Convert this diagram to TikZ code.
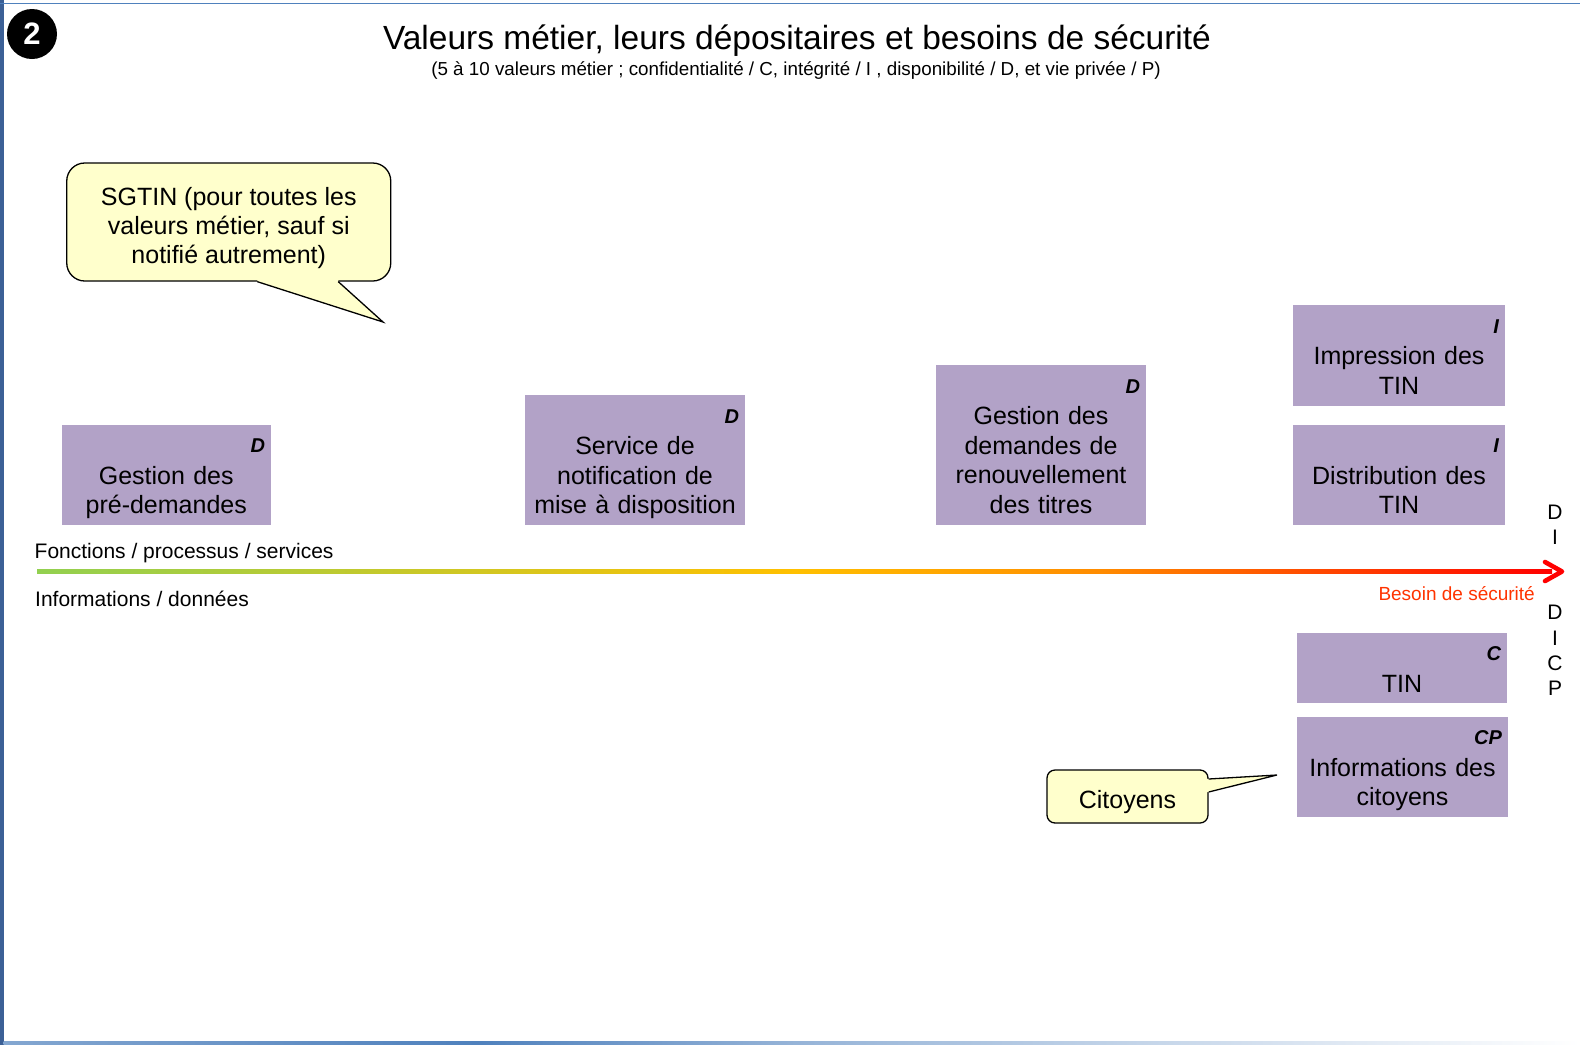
\documentclass[tikz,border=0pt]{standalone}
\usepackage{fontspec}
\setmainfont{Liberation Sans}
\usetikzlibrary{arrows.meta}

\definecolor{lavender}{RGB}{178,162,199}
\definecolor{noteyellow}{RGB}{255,255,204}
\definecolor{frameblue}{RGB}{79,129,189}
\definecolor{framedark}{RGB}{60,96,150}
\definecolor{axgreen}{RGB}{146,208,80}
\definecolor{axyellow}{RGB}{255,192,0}
\definecolor{axorange}{RGB}{255,140,0}
\definecolor{axred}{RGB}{255,0,0}
\definecolor{needred}{RGB}{255,51,0}

% colour ramp of the security-need axis (path spans 25bp..75bp)
\pgfdeclarehorizontalshading{besoin}{100bp}{color(0bp)=(axgreen); color(25bp)=(axgreen);
  color(50bp)=(axyellow); color(60bp)=(axorange); color(75bp)=(axred); color(100bp)=(axred)}
% fading blue rule at the foot of the slide
\pgfdeclarehorizontalshading{footrule}{100bp}{color(0bp)=(frameblue!70); color(25bp)=(frameblue!70);
  color(40bp)=(frameblue); color(50bp)=(frameblue!60); color(75bp)=(white); color(100bp)=(white)}

% criterion letters in the top right corner of a value box
\newcommand{\valtag}[1]{\makebox[\linewidth][r]{\rule{0pt}{22pt}\fontsize{20}{29}\selectfont\bfseries\itshape #1}\\[2pt]}
% same descender room under every last line
\newcommand{\lastdepth}{\rule[-5.3pt]{0pt}{5.3pt}}
% extra room above the first line of a callout text
\newcommand{\notestrut}{\rule{0pt}{30pt}}

\tikzset{
  valbox/.style={fill=lavender, inner xsep=6pt, inner ysep=0pt, align=center,
    execute at end node=\lastdepth, font=\fontsize{25}{29.5}\selectfont},
  note/.style={draw=black, line width=1.3pt, fill=noteyellow, align=center,
    font=\fontsize{25}{29}\selectfont},
  axislabel/.style={anchor=base west, inner sep=0pt, font=\fontsize{21}{25}\selectfont},
  letters/.style={align=center, inner sep=0pt, font=\fontsize{21}{25.3}\selectfont},
}

\begin{document}
\begin{tikzpicture}[x=1pt,y=-1pt]
\useasboundingbox (0,0) rectangle (1580,1045);

% slide frame
\fill[framedark] (0,0) rectangle (3.5,1045);
\fill[frameblue] (0,2.8) rectangle (1580,4.4);
\fill[shading=footrule] (3.5,1041.5) rectangle (1580,1044);

% slide number
\node[circle, fill=black, minimum size=50pt, inner sep=0pt, text=white,
  font=\fontsize{31}{31}\selectfont\bfseries] (num) at (32,34) {2};

% heading
\node[inner sep=0pt, anchor=base, font=\fontsize{33.5}{36}\selectfont] (title) at (797,49)
  {Valeurs métier, leurs dépositaires et besoins de sécurité};
\node[inner sep=0pt, anchor=base, font=\fontsize{18.8}{20}\selectfont] (subtitle) at (796,75)
  {(5 à 10 valeurs métier ; confidentialité / C, intégrité / I , disponibilité / D, et vie privée / P)};

% business values (functions / processes / services)
\node[valbox, text width=197.5pt, minimum height=100pt] (predem) at (166.25,475)
  {\valtag{D}Gestion des\\pré-demandes};
\node[valbox, text width=208pt, minimum height=130pt] (notif) at (635,460)
  {\valtag{D}Service de\\notification de\\mise à disposition};
\node[valbox, text width=198pt, minimum height=160pt] (renouv) at (1041,445)
  {\valtag{D}Gestion des\\demandes de\\renouvellement\\des titres};
\node[valbox, text width=200pt, minimum height=101pt] (impr) at (1399,355.5)
  {\valtag{I}Impression des\\TIN};
\node[valbox, text width=200pt, minimum height=100pt] (distr) at (1399,475)
  {\valtag{I}Distribution des\\TIN};

% business values (information / data)
\node[valbox, text width=198pt, minimum height=70pt] (tin) at (1402,668)
  {\valtag{C}TIN};
\node[valbox, text width=199pt, minimum height=100pt] (infocit) at (1402.5,767)
  {\valtag{CP}Informations des\\citoyens};

% security-need axis
\coordinate (axstart) at (37,571.5);
\coordinate (axend) at (1552,571.5);
\coordinate (axtip) at (1562,571.5);
\fill[shading=besoin] (37,569.2) rectangle (1552,573.8);
\draw[axred, line width=4.6pt, line cap=round, line join=round]
  ([shift={(-17,-9.5)}]axtip) -- (axtip) -- ([shift={(-17,9.5)}]axtip);

\node[axislabel] (fonctions) at (34.5,558) {Fonctions / processus / services};
\node[axislabel] (infos) at (35,606) {Informations / données};
\node[anchor=base east, inner sep=0pt, text=needred, font=\fontsize{19}{22}\selectfont]
  (besoin) at (1535,600) {Besoin de sécurité};

\node[letters] (critup) at (1555,525) {D\\I};
\node[letters] (critdown) at (1555,650.5) {D\\I\\C\\P};

% owner callouts
\node[note, rounded corners=18pt, minimum width=324pt, minimum height=118pt] (sgtin) at (228.75,222)
  {\notestrut SGTIN (pour toutes les\\valeurs métier, sauf si\\notifié autrement)};
\coordinate (sgtintip) at (383,322);
\fill[noteyellow] ([shift={(28.5,-4)}]sgtin.south) -- ([shift={(28.5,0)}]sgtin.south) -- (sgtintip)
  -- ([shift={(109.5,0)}]sgtin.south) -- ([shift={(109.5,-4)}]sgtin.south) -- cycle;
\draw[line width=1.3pt, line join=miter] ([shift={(28.5,0)}]sgtin.south) -- (sgtintip)
  -- ([shift={(109.5,0)}]sgtin.south);

\node[note, rounded corners=8pt, minimum width=161pt, minimum height=53pt] (citoyens) at (1127.5,796.5)
  {\notestrut Citoyens};
\coordinate (citoyenstip) at (1277,775);
\fill[noteyellow] ([shift={(-4,-17.5)}]citoyens.east) -- ([shift={(0,-17.5)}]citoyens.east) -- (citoyenstip)
  -- ([shift={(0,-4.5)}]citoyens.east) -- ([shift={(-4,-4.5)}]citoyens.east) -- cycle;
\draw[line width=1.3pt, line join=miter] ([shift={(0,-17.5)}]citoyens.east) -- (citoyenstip)
  -- ([shift={(0,-4.5)}]citoyens.east);
\end{tikzpicture}
\end{document}
